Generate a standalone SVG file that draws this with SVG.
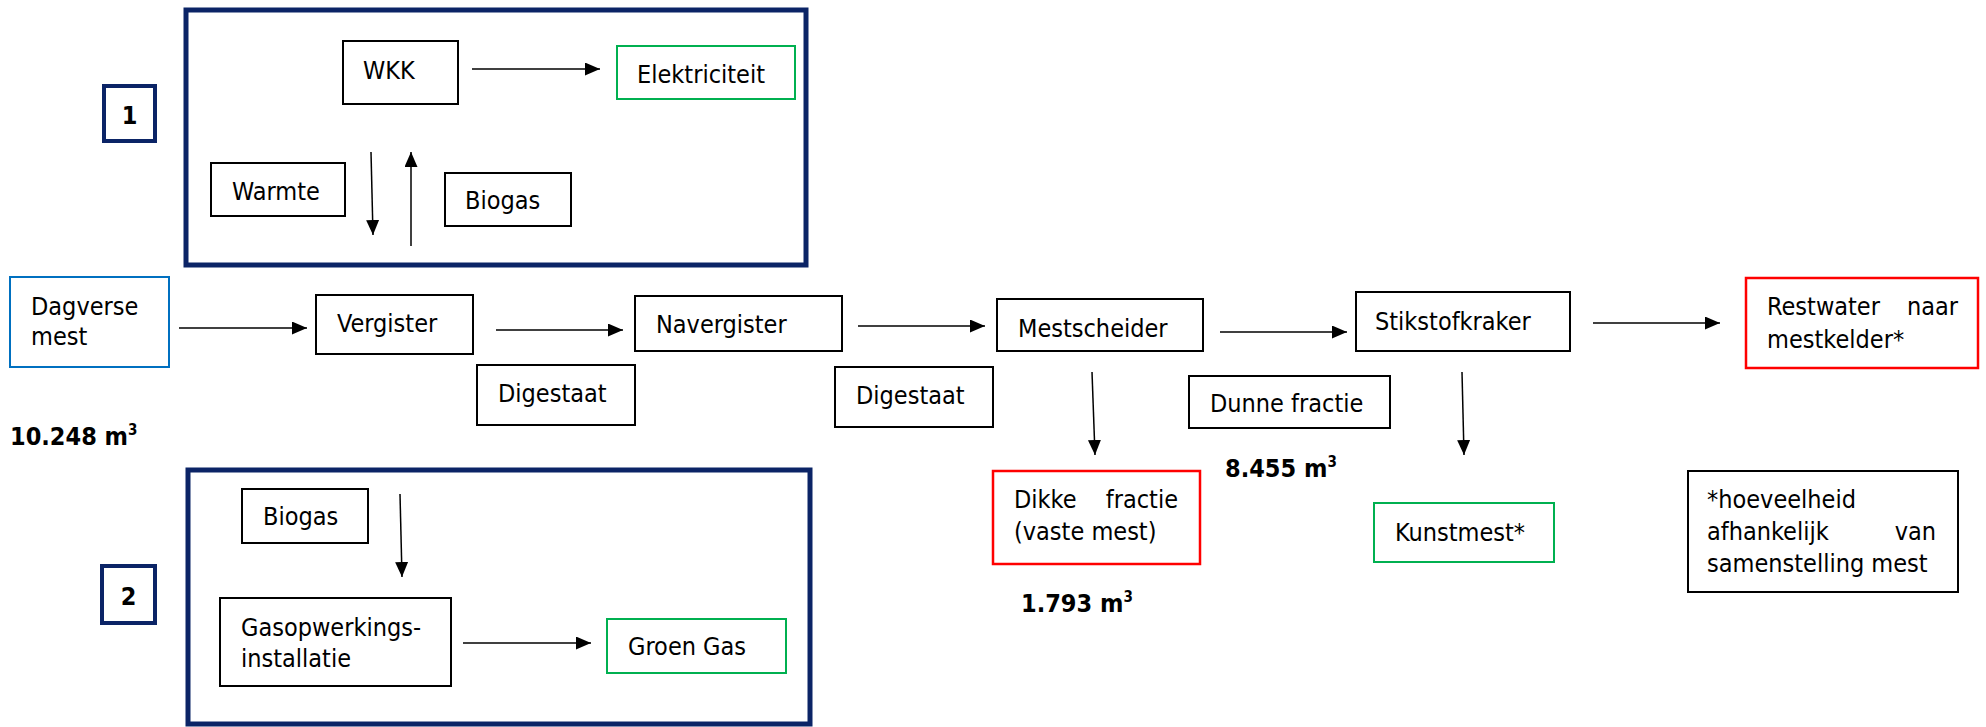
<svg xmlns="http://www.w3.org/2000/svg" width="1986" height="727" viewBox="0 0 1986 727">
<style>
.bg{fill:#ffffff}
.box{fill:#ffffff;stroke:#000000;stroke-width:2}
.green{fill:#ffffff;stroke:#00b050;stroke-width:2}
.red{fill:#ffffff;stroke:#ff0000;stroke-width:2.5}
.blue{fill:#ffffff;stroke:#0070c0;stroke-width:2}
.frame{fill:none;stroke:#0b2466;stroke-width:5}
.lab{fill:#ffffff;stroke:#0b2466;stroke-width:4}
.t{font-family:'DejaVu Sans Condensed','DejaVu Sans',sans-serif;font-stretch:condensed;font-size:25px;fill:#000000}
.b{font-family:'DejaVu Sans Condensed','DejaVu Sans',sans-serif;font-stretch:condensed;font-size:25px;font-weight:bold;fill:#000000}
.sup{font-size:15px}
.c{fill:none;stroke:#000000;stroke-width:1.5;marker-end:url(#ah)}
</style>
<defs>
<marker id="ah" markerUnits="userSpaceOnUse" markerWidth="16" markerHeight="14" refX="15" refY="6.5" orient="auto">
<path d="M0,0 L15,6.5 L0,13 z" fill="#000000"/>
</marker>
</defs>
<rect class="bg" x="0" y="0" width="1986" height="727"/>

<g id="frame1"><rect class="frame" x="186" y="10" width="620" height="255"/></g>
<g id="label1"><rect class="lab" x="104" y="86" width="51" height="55"/><text class="b" x="129.5" y="124" text-anchor="middle">1</text></g>
<g id="wkk"><rect class="box" x="343" y="41" width="115" height="63"/><text class="t" x="363" y="79">WKK</text></g>
<g id="elektriciteit"><rect class="green" x="617" y="46" width="178" height="53"/><text class="t" x="637" y="83">Elektriciteit</text></g>
<g id="warmte"><rect class="box" x="211" y="163" width="134" height="53"/><text class="t" x="232" y="200">Warmte</text></g>
<g id="biogas1"><rect class="box" x="445" y="173" width="126" height="53"/><text class="t" x="465" y="209">Biogas</text></g>

<g id="dagverse"><rect class="blue" x="10" y="277" width="159" height="90"/><text class="t" x="31" y="315">Dagverse</text><text class="t" x="31" y="345">mest</text></g>
<g id="vergister"><rect class="box" x="316" y="295" width="157" height="59"/><text class="t" x="337" y="332">Vergister</text></g>
<g id="digestaat1"><rect class="box" x="477" y="365" width="158" height="60"/><text class="t" x="498" y="402">Digestaat</text></g>
<g id="navergister"><rect class="box" x="635" y="296" width="207" height="55"/><text class="t" x="656" y="333">Navergister</text></g>
<g id="digestaat2"><rect class="box" x="835" y="367" width="158" height="60"/><text class="t" x="856" y="404">Digestaat</text></g>
<g id="mestscheider"><rect class="box" x="997" y="299" width="206" height="52"/><text class="t" x="1018" y="337">Mestscheider</text></g>
<g id="dunne"><rect class="box" x="1189" y="376" width="201" height="52"/><text class="t" x="1210" y="412">Dunne fractie</text></g>
<g id="stikstofkraker"><rect class="box" x="1356" y="292" width="214" height="59"/><text class="t" x="1375" y="330">Stikstofkraker</text></g>
<g id="restwater"><rect class="red" x="1746" y="278" width="232" height="90"/><text class="t" y="315"><tspan x="1767">Restwater</tspan><tspan x="1958" text-anchor="end">naar</tspan></text><text class="t" x="1767" y="348">mestkelder*</text></g>
<g id="dikke"><rect class="red" x="993" y="471" width="207" height="93"/><text class="t" y="508"><tspan x="1014">Dikke</tspan><tspan x="1178" text-anchor="end">fractie</tspan></text><text class="t" x="1014" y="540">(vaste mest)</text></g>
<g id="kunstmest"><rect class="green" x="1374" y="503" width="180" height="59"/><text class="t" x="1395" y="541">Kunstmest*</text></g>
<g id="note"><rect class="box" x="1688" y="471" width="270" height="121"/><text class="t" x="1707" y="508">*hoeveelheid</text><text class="t" y="540"><tspan x="1707">afhankelijk</tspan><tspan x="1936" text-anchor="end">van</tspan></text><text class="t" x="1707" y="572">samenstelling mest</text></g>

<g id="vol1"><text class="b" x="10" y="445">10.248 m<tspan class="sup" dy="-10">3</tspan></text></g>
<g id="vol2"><text class="b" x="1225" y="477">8.455 m<tspan class="sup" dy="-10">3</tspan></text></g>
<g id="vol3"><text class="b" x="1021" y="612">1.793 m<tspan class="sup" dy="-10">3</tspan></text></g>

<g id="frame2"><rect class="frame" x="188" y="470" width="622" height="254"/></g>
<g id="label2"><rect class="lab" x="102" y="566" width="53" height="57"/><text class="b" x="128.5" y="605" text-anchor="middle">2</text></g>
<g id="biogas2"><rect class="box" x="242" y="489" width="126" height="54"/><text class="t" x="263" y="525">Biogas</text></g>
<g id="gasopwerking"><rect class="box" x="220" y="598" width="231" height="88"/><text class="t" x="241" y="636">Gasopwerkings-</text><text class="t" x="241" y="667">installatie</text></g>
<g id="groengas"><rect class="green" x="607" y="619" width="179" height="54"/><text class="t" x="628" y="655">Groen Gas</text></g>

<g id="connectors">
<line class="c" x1="472" y1="69" x2="600" y2="69"/>
<line class="c" x1="371" y1="152" x2="373" y2="235"/>
<line class="c" x1="411" y1="246" x2="411" y2="152"/>
<line class="c" x1="179" y1="328" x2="307" y2="328"/>
<line class="c" x1="496" y1="330" x2="623" y2="330"/>
<line class="c" x1="858" y1="326" x2="985" y2="326"/>
<line class="c" x1="1092" y1="372" x2="1095" y2="455"/>
<line class="c" x1="1220" y1="332" x2="1347" y2="332"/>
<line class="c" x1="1462" y1="372" x2="1464" y2="455"/>
<line class="c" x1="1593" y1="323" x2="1720" y2="323"/>
<line class="c" x1="400" y1="494" x2="402" y2="577"/>
<line class="c" x1="463" y1="643" x2="591" y2="643"/>
</g>
</svg>
